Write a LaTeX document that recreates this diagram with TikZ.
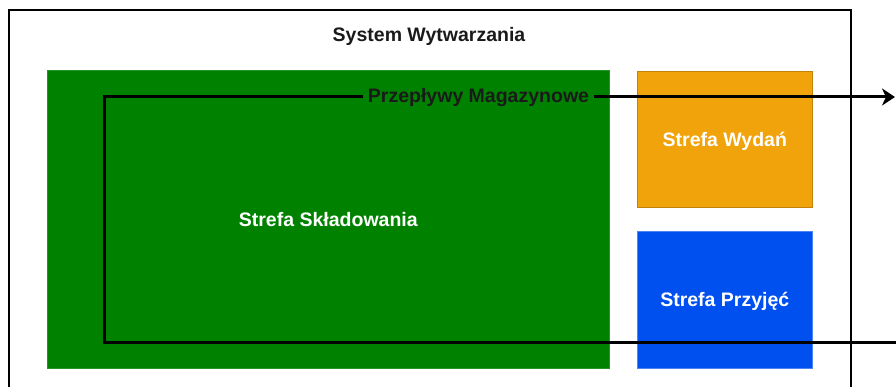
\documentclass[tikz,border=0pt]{standalone}
\usepackage{fontspec}
\setmainfont{Liberation Sans}
\usetikzlibrary{arrows.meta}
\definecolor{zoneGreen}{HTML}{008200}
\definecolor{zoneOrange}{HTML}{F0A30A}
\definecolor{zoneBlue}{HTML}{0050EF}
\definecolor{inkDark}{HTML}{1A1A1A}
\begin{document}
\begin{tikzpicture}[x=1pt,y=-1pt,
  lbl/.style={font=\fontsize{19.5}{23}\selectfont\bfseries,
    text height=14pt, text depth=0pt, inner sep=0pt},
  zone/.style={lbl, text=white, anchor=north west, line width=0.6pt},
  frame/.style={draw=black, line width=2pt, anchor=north west, inner sep=0pt},
  flow/.style={draw=black, line width=3pt, line join=miter},
  flowlabel/.style={lbl, text=inkDark, fill=zoneGreen, inner xsep=5pt, inner ysep=3pt}
]
\useasboundingbox (0,0) rectangle (896,387);
\clip (0,0) rectangle (896,387);
\fill[white] (0,0) rectangle (896,387);

% outer container (its lower edge runs past the page)
\node[frame, minimum width=842pt, minimum height=420pt] (system) at (8,9) {};
\node[lbl, text=inkDark] (title) at (429,35) {System Wytwarzania};

% zones
\node[zone, fill=zoneGreen, draw=zoneGreen!85!white,
  minimum width=562pt, minimum height=298pt] (storage) at (47,70) {Strefa Składowania};
\node[zone, fill=zoneOrange, draw=zoneOrange!80!black,
  minimum width=175pt, minimum height=136pt] (dispatch) at (637,71) {Strefa Wydań};
\node[zone, fill=zoneBlue, draw=zoneBlue!70!white,
  minimum width=175pt, minimum height=137pt] (receiving) at (637,231) {Strefa Przyjęć};

% warehouse flow
\coordinate (flowIn) at (897,342);
\coordinate (flowLow) at (104,342);
\coordinate (flowHigh) at (104,97);
\coordinate (flowOut) at (895,97);
\draw[flow, -{Stealth[length=13pt,width=17pt,inset=4pt]}]
  (flowIn) -- (flowLow) -- (flowHigh) -- (flowOut);
\node[flowlabel] (flowname) at (478.5,96) {Przepływy Magazynowe};
\end{tikzpicture}
\end{document}
